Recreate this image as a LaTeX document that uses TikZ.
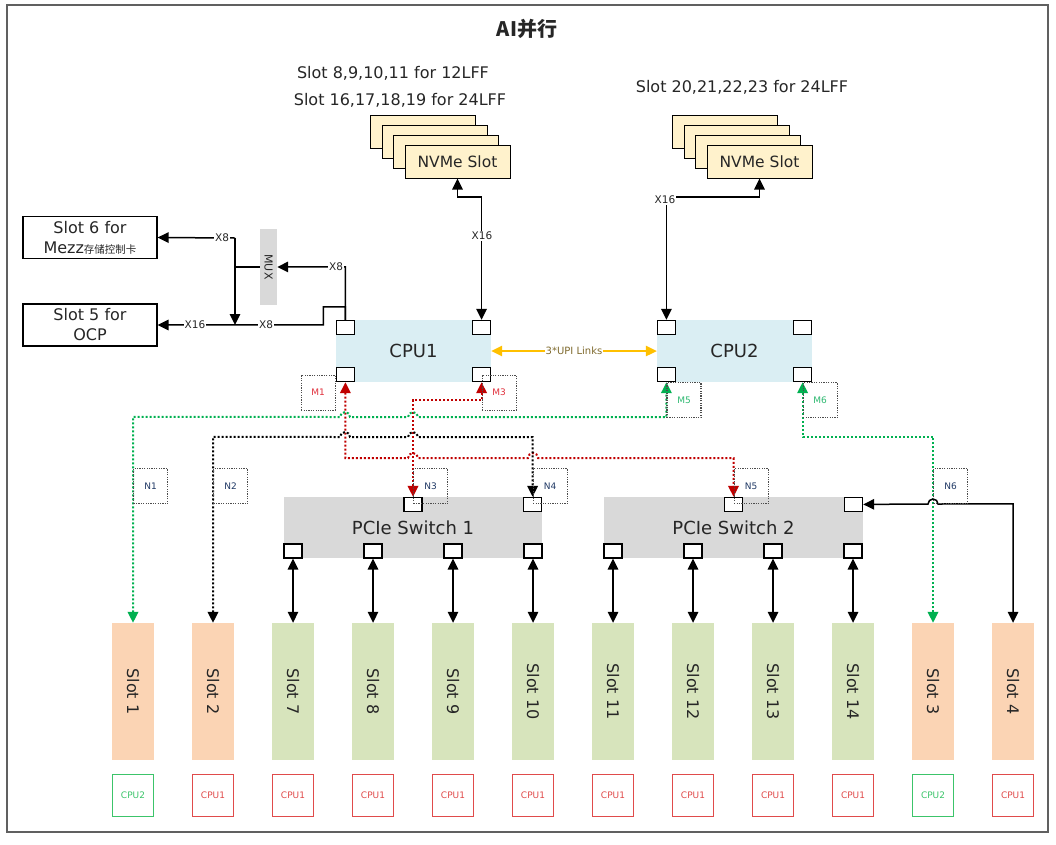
\documentclass[tikz,border=0pt]{standalone}
\usepackage{fontspec}
\setmainfont{DejaVu Sans}
\newfontfamily\cjk{Noto Sans CJK SC}
\usetikzlibrary{arrows.meta}
\definecolor{cpufill}{HTML}{DAEEF3}
\definecolor{swfill}{HTML}{D9D9D9}
\definecolor{nvmefill}{HTML}{FFF2CC}
\definecolor{peach}{HTML}{FBD4B4}
\definecolor{leaf}{HTML}{D7E4BC}
\definecolor{upi}{HTML}{FFC000}
\definecolor{upitext}{HTML}{7F6A2E}
\definecolor{linkred}{HTML}{C00000}
\definecolor{linkgreen}{HTML}{00B050}
\definecolor{tagred}{HTML}{E0303C}
\definecolor{taggreen}{HTML}{2DB870}
\definecolor{cpuc1}{HTML}{E04B4B}
\definecolor{cpuc2}{HTML}{3CC46A}
\definecolor{ink}{HTML}{262626}
\definecolor{navy}{HTML}{1F3864}
\tikzset{
  >={Triangle[length=11pt,width=10.5pt]},
  link/.style={line width=1.5pt,draw=black},
  dotlink/.style={line width=2pt,dash pattern=on 2pt off 2pt},
  port/.style={draw=black,fill=white,line width=1.2pt,minimum width=18pt,minimum height=14pt,inner sep=0pt},
  cpubox/.style={fill=cpufill,minimum width=155pt,minimum height=62pt,font=\fontsize{18}{21}\selectfont,text=ink},
  swbox/.style={fill=swfill,minimum height=61pt,font=\fontsize{18}{21}\selectfont,text=ink},
  nvmebox/.style={draw=black,line width=1pt,fill=nvmefill,minimum width=105pt,minimum height=33pt,font=\fontsize{15.5}{18}\selectfont,text=ink},
  sidebox/.style={draw=black,line width=1.2pt,minimum width=134pt,minimum height=42pt,align=center,font=\fontsize{16}{20}\selectfont,text=ink,inner sep=0pt},
  slotbox/.style={minimum width=42pt,minimum height=137pt,inner sep=0pt,font=\fontsize{16}{19}\selectfont,text=ink},
  cpulbl/.style={draw,line width=1.3pt,minimum width=41pt,minimum height=42pt,inner sep=0pt,font=\fontsize{9}{10}\selectfont},
  tagbox/.style={draw=gray!60!black,line width=1.2pt,dash pattern=on 1.2pt off 1.2pt,minimum width=34pt,minimum height=35pt,inner sep=0pt,font=\fontsize{9}{10}\selectfont},
  lanelbl/.style={fill=white,inner sep=0.6pt,font=\fontsize{10.5}{12}\selectfont,text=ink},
  headtxt/.style={font=\fontsize{16}{19}\selectfont,text=ink},
}

\begin{document}
\begin{tikzpicture}[x=1pt,y=-1pt]
  \useasboundingbox (0,0) rectangle (1056,844);
  \draw[line width=1.6pt,draw=gray!75!black] (7,5) rectangle (1048,832);

  \node[font=\cjk\bfseries\fontsize{20}{24}\selectfont,text=ink] (title) at (527,29) {AI并行};

  % NVMe stacks
  \node[headtxt] (hd1) at (393,73) {Slot 8,9,10,11 for 12LFF};
  \node[headtxt] (hd2) at (400,100) {Slot 16,17,18,19 for 24LFF};
  \node[headtxt] (hd3) at (742,87) {Slot 20,21,22,23 for 24LFF};
  \foreach \k in {3,2,1} {
    \node[nvmebox] (nva\k) at ({457.5-11.5*\k},{161.5-10*\k}) {NVMe Slot};
    \node[nvmebox] (nvb\k) at ({759.5-11.5*\k},{161.5-10*\k}) {NVMe Slot};
  }
  \node[nvmebox] (nv1) at (457.5,161.5) {NVMe Slot};
  \node[nvmebox] (nv2) at (759.5,161.5) {NVMe Slot};

  % CPUs
  \node[cpubox] (cpu1) at (413.5,351) {CPU1};
  \node[cpubox] (cpu2) at (734.5,351) {CPU2};
  \foreach \c in {1,2} {
    \node[port,anchor=north west] (p\c tl) at (cpu\c.north west) {};
    \node[port,anchor=north east] (p\c tr) at (cpu\c.north east) {};
    \node[port,anchor=south west] (p\c bl) at (cpu\c.south west) {};
    \node[port,anchor=south east] (p\c br) at (cpu\c.south east) {};
  }
  \draw[line width=1.5pt,draw=upi,<->] (cpu1.east) -- node[fill=white,inner sep=1pt,text=upitext,font=\fontsize{10}{12}\selectfont] (upi) {3*UPI Links} (cpu2.west);

  % Mezz / OCP
  \node[sidebox] (mezz) at (90,237.5) {Slot 6 for\\Mezz{\cjk\fontsize{10.5}{12}\selectfont 存储控制卡}};
  \node[sidebox] (ocp) at (90,325) {Slot 5 for\\OCP};
  \node[fill=swfill,minimum width=17pt,minimum height=76pt,inner sep=0pt,font=\fontsize{11}{12}\selectfont,text=ink] (mux) at (268.5,267) {\rotatebox{-90}{MUX}};

  \coordinate (mj) at (235,238);
  \draw[link,->] (p1tl.north) -- ++(0,-53) -- (mux.east);
  \draw[link,->] (p1tl.north) -- ++(0,-13) -- ++(-22,0) -- ++(0,18) -- (ocp.east);
  \draw[link] (mux.west) -- (mux.west -| mj);
  \draw[link,->] (mj) -- (mj |- ocp.east);
  \draw[link,->] (mj) -- (mezz.east);
  \node[lanelbl] (x8a) at (336,267) {X8};
  \node[lanelbl] (x8b) at (266,325) {X8};
  \node[lanelbl] (x16a) at (195,325) {X16};
  \node[lanelbl] (x8c) at (222,238) {X8};

  % CPU to NVMe
  \draw[link,<->] (p1tr.north) -- ++(0,-123) -| (nv1.south);
  \draw[link,<->] (p2tl.north) -- ++(0,-123) -| (nv2.south);
  \node[lanelbl] (x16b) at (482,236) {X16};
  \node[lanelbl] (x16c) at (665,200) {X16};

  % switches
  \node[swbox,minimum width=258pt] (sw1) at (413,527.5) {PCIe Switch 1};
  \node[swbox,minimum width=259pt] (sw2) at (733.5,527.5) {PCIe Switch 2};
  \node[port,anchor=north] (pn3) at (sw1.north) {};
  \node[port,anchor=north east] (pn4) at (sw1.north east) {};
  \node[port,anchor=north] (pn5) at (sw2.north) {};
  \node[port,anchor=north east] (pn6) at (sw2.north east) {};

  % slots
  \foreach \n/\fillc/\cpu [count=\i from 0] in {1/peach/2,2/peach/1,7/leaf/1,8/leaf/1,9/leaf/1,10/leaf/1,11/leaf/1,12/leaf/1,13/leaf/1,14/leaf/1,3/peach/2,4/peach/1} {
    \node[slotbox,fill=\fillc] (s\n) at ({133+80*\i},691.5) {\rotatebox{-90}{Slot \n}};
    \node[cpulbl,draw=cpuc\cpu,text=cpuc\cpu] (l\n) at ({133+80*\i},795.5) {CPU\cpu};
  }
  \foreach \n [count=\i from 0] in {7,...,14} {
    \node[port] (p\n) at ({293+80*\i},551) {};
    \draw[link,<->] (p\n.south) -- (s\n.north);
  }

  % dotted links (with line jumps)
  \draw[dotlink,draw=linkred,<->] (p1bl.south) -- ++(0,76) -- (408,458) arc[start angle=180,end angle=0,radius=5pt]
    -- (528,458) arc[start angle=180,end angle=0,radius=5pt] -| (pn5.north);
  \draw[dotlink,draw=linkred,<->] (p1br.south) -- ++(0,18) -| (pn3.north);
  \draw[dotlink,draw=black,<->] (s2.north) -- ++(0,-186) -- (340,437) arc[start angle=180,end angle=0,radius=5pt]
    -- (408,437) arc[start angle=180,end angle=0,radius=5pt] -| (pn4.north);
  \draw[dotlink,draw=linkgreen,<->] (s1.north) -- ++(0,-206) -- (340,417) arc[start angle=180,end angle=0,radius=5pt]
    -- (408,417) arc[start angle=180,end angle=0,radius=5pt] -| (p2bl.south);
  \draw[dotlink,draw=linkgreen,<->] (s3.north) -- ++(0,-186) -| (p2br.south);
  \draw[link,<->] (s4.north) -- ++(0,-119) -- (938,504) arc[start angle=0,end angle=180,radius=5pt] -- (pn6.east);

  % tags
  \node[tagbox,anchor=north east,text=tagred] (m1) at (p1bl.west) {M1};
  \node[tagbox,anchor=north west,text=tagred] (m3) at (p1br.center) {M3};
  \node[tagbox,anchor=north west,text=taggreen] (m5) at (p2bl.south) {M5};
  \node[tagbox,anchor=north west,text=taggreen] (m6) at (p2br.south) {M6};
  \node[tagbox,anchor=south west,text=navy] (n1) at (s1.north |- pn3.center) {N1};
  \node[tagbox,anchor=south west,text=navy] (n2) at (s2.north |- pn3.center) {N2};
  \node[tagbox,anchor=south west,text=navy] (n3) at (pn3.center) {N3};
  \node[tagbox,anchor=south west,text=navy] (n4) at (pn4.center) {N4};
  \node[tagbox,anchor=south west,text=navy] (n5) at (pn5.center) {N5};
  \node[tagbox,anchor=south west,text=navy] (n6) at (s3.north |- pn3.center) {N6};
\end{tikzpicture}
\end{document}
